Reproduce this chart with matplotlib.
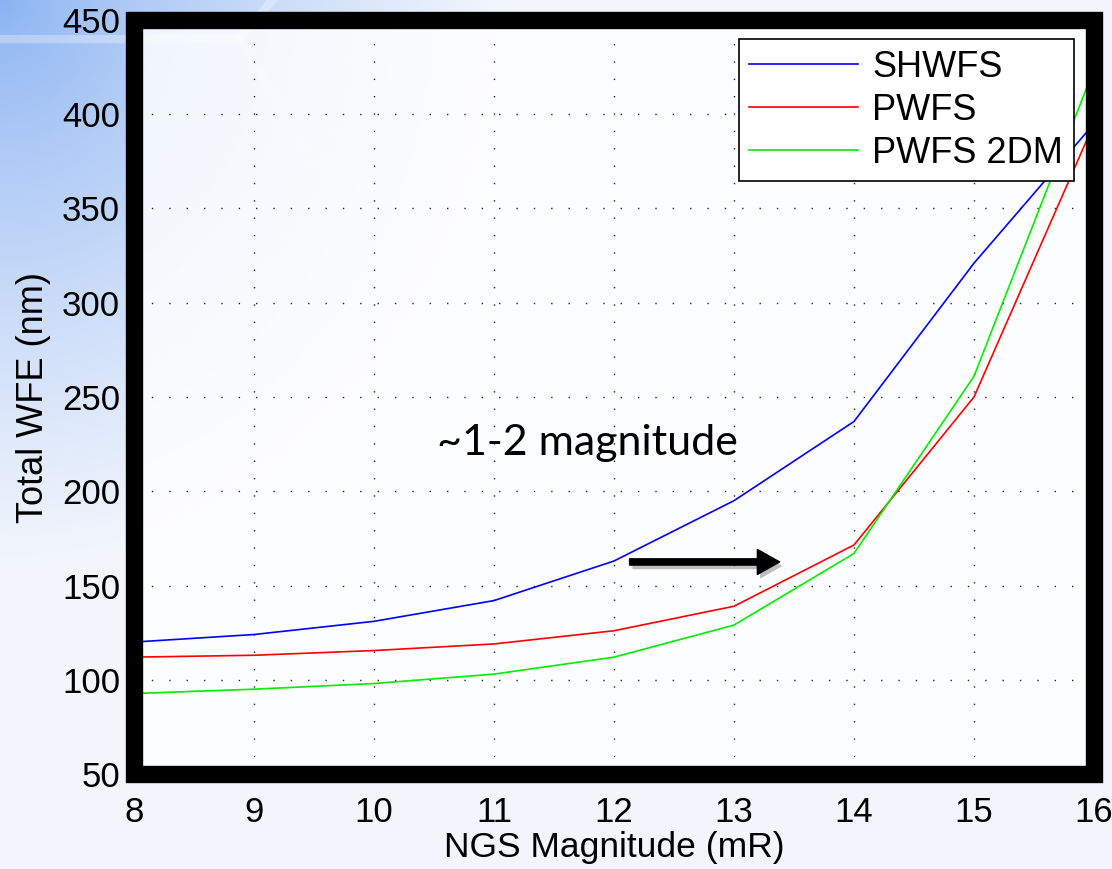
import numpy as np
import matplotlib
matplotlib.use('Agg')
import matplotlib.pyplot as plt
from matplotlib.patches import Rectangle
from matplotlib import patheffects as pe

plt.rcParams['font.family'] = ['Liberation Sans', 'DejaVu Sans']

mag = [8, 9, 10, 11, 12, 13, 14, 15, 16]
shwfs = [120, 124, 131, 142, 163, 195, 237, 321, 395]
pwfs = [112, 113, 115.5, 119, 126, 139, 171.5, 250, 395]
pwfs_2dm = [92.7, 95, 98, 103, 112, 129, 167, 261, 424]

fig = plt.figure(figsize=(11.12, 8.69), dpi=100)

# slide-like background gradient (blue in the top-left corner)
bg = fig.add_axes([0, 0, 1, 1], zorder=-10)
yy, xx = np.mgrid[0:1:300j, 0:1:300j]   # yy measured from the top
t = np.clip(np.sqrt((xx / 0.45) ** 2 + (yy / 0.65) ** 2), 0, 1) ** 0.8
c0 = np.array([0.54, 0.70, 0.95])
c1 = np.array([0.95, 0.965, 0.99])
img = c0[None, None, :] * (1 - t[..., None]) + c1[None, None, :] * t[..., None]
bg.imshow(img, extent=[0, 1, 0, 1], aspect='auto', origin='upper')
bg.plot([0, 0.215, 0.245], [0.955, 0.955, 1.0], color='white', alpha=0.3, lw=6)
bg.plot([0.215, 0.30], [0.955, 0.78], color='white', alpha=0.12, lw=6)
bg.set_xlim(0, 1)
bg.set_ylim(0, 1)
bg.axis('off')

ax = fig.add_axes([0.1205, 0.1093, 0.8633, 0.8677])
ax.set_facecolor((1, 1, 1, 0.82))

ax.plot(mag, shwfs, color='#0000ff', lw=1.2, label='SHWFS')
ax.plot(mag, pwfs, color='#ff0000', lw=1.2, label='PWFS')
ax.plot(mag, pwfs_2dm, color='#00ee00', lw=1.2, label='PWFS 2DM')

ax.set_xlim(8, 16)
ax.set_ylim(50, 450)
ax.set_xticks(range(8, 17))
ax.set_yticks(range(50, 451, 50))
ax.grid(True, color='#222222', lw=1.0, linestyle=(0, (1, 11.5)))
ax.tick_params(direction='in', length=5, width=1.5, top=True, right=True,
               labelsize=25)
ax.tick_params(axis='x', pad=16)
ax.tick_params(axis='y', pad=10)
for s in ax.spines.values():
    s.set_visible(False)

ax.add_patch(Rectangle((0, 0), 1, 1, transform=ax.transAxes, fill=False,
                       lw=12.5, edgecolor='black', joinstyle='miter',
                       clip_on=False, zorder=5))

ax.set_xlabel('NGS Magnitude (mR)', fontsize=25.5, labelpad=1)
ax.set_ylabel('Total WFE (nm)', fontsize=26, labelpad=8)

leg = ax.legend(loc='upper right', bbox_to_anchor=(0.979, 0.975),
                borderaxespad=0, fontsize=26, fancybox=False,
                edgecolor='black', framealpha=1, handlelength=3.0,
                handletextpad=0.4, labelspacing=0.22, borderpad=0.3)
leg.get_frame().set_linewidth(1.2)
leg.set_zorder(6)

ax.text(11.78, 219, '~1-2 magnitude', family=['Lato', 'DejaVu Sans'],
        fontsize=31, ha='center', va='baseline', color='black')

ax.annotate('', xy=(13.38, 162.5), xytext=(12.13, 162.5),
            arrowprops=dict(width=4.5, headwidth=18, headlength=16,
                            facecolor='black', edgecolor='black',
                            path_effects=[pe.withSimplePatchShadow(offset=(2, -3), alpha=0.25)]))

fig.savefig('out.png', dpi=100)
